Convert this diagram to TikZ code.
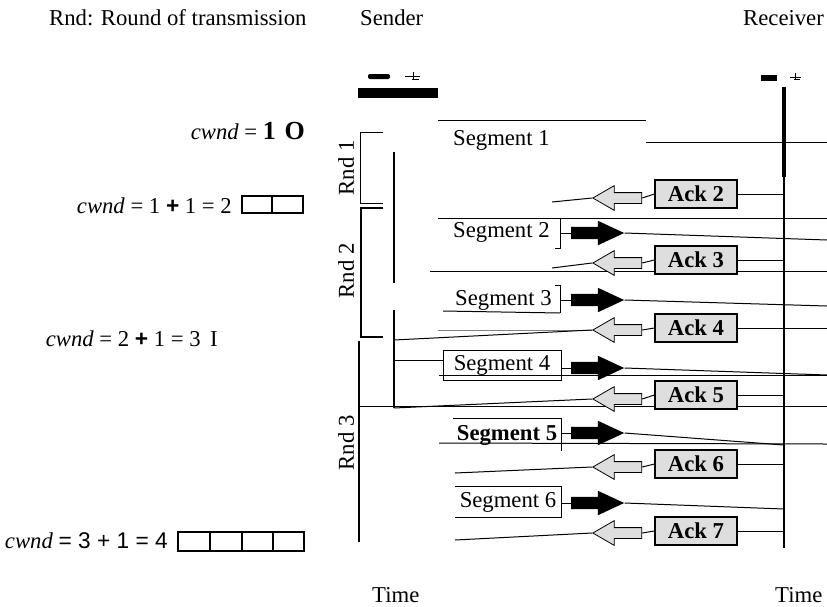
\documentclass[tikz,border=0pt]{standalone}
\usepackage{fontspec}
\setmainfont{Liberation Serif}
\setsansfont{Liberation Sans}
\usetikzlibrary{arrows.meta,positioning,shapes.arrows,calc}
\definecolor{ackgray}{RGB}{222,222,222}
\definecolor{rulegray}{RGB}{130,130,130}

\begin{document}
\begin{tikzpicture}[x=1pt,y=-1pt,
    every node/.style={font=\fontsize{22.7}{26}\selectfont, inner sep=0pt},
    conn/.style={line width=1pt},
    ackbox/.style={draw, line width=1.2pt, fill=ackgray, font=\fontsize{22.7}{26}\selectfont\bfseries,
      minimum width=82pt, minimum height=28pt},
    ackarrow/.style={single arrow, draw, line width=0.8pt, fill=ackgray, shape border rotate=180,
      minimum height=49pt, inner xsep=0pt, inner ysep=5pt, single arrow head extend=7pt,
      single arrow tip angle=60},
    segarrow/.style={single arrow, fill=black, minimum height=53pt, inner xsep=0pt, inner ysep=6pt,
      single arrow head extend=6pt, single arrow tip angle=50},
    rndlbl/.style={rotate=90}]
  \useasboundingbox (0,0) rectangle (827,606);

  % headings
  \node[anchor=base west] (rndkey) at (49,25) {Rnd: Round of transmission};
  \node[anchor=base west] (sender) at (360,25) {Sender};
  \node[anchor=base west] (receiver) at (743,25) {Receiver};
  \node[anchor=base west] (stime) at (372,602) {Time};
  \node[anchor=base west] (rtime) at (775,602) {Time};

  % sender and receiver marks
  \fill[rounded corners=2pt] (368,74) rectangle (390,79);
  \draw[line width=1pt] (405,76) -- (420,76) (413,72) -- (413,80) (412,79) -- (419,79);
  \fill (358,88) rectangle (438,98);
  \fill (761,75) rectangle (777,81);
  \draw[line width=1pt] (790,77) -- (801,77) (795,73) -- (795,80) (794,79) -- (800,79);
  \coordinate (rcv) at (784,87);
  \coordinate (rcvmid) at (784,177);
  \coordinate (rcvbot) at (784,548);
  \draw[line width=4pt] (rcv) -- (rcvmid);
  \draw[line width=1.5pt] (rcvmid) -- (rcvbot);

  % rounds
  \draw[line width=1pt] (383,132) -- (360,132) -- (360,203) -- (383,203);
  \draw[line width=1.4pt] (383,208) -- (361,208) -- (361,337) -- (383,337);
  \draw[line width=2pt] (359,341) -- (359,542);
  \node[rndlbl] (rnd1) at (346,168) {Rnd 1};
  \node[rndlbl] (rnd2) at (346,271) {Rnd 2};
  \node[rndlbl] (rnd3) at (346,443) {Rnd 3};
  \draw[line width=1.6pt] (394,152) -- (394,283);
  \draw[line width=1.6pt] (394,310) -- (394,408);

  % rules across the time lines
  \draw[conn] (438,120) -- (646,120);
  \draw[conn] (646,142) -- (827,142);
  \draw[conn] (438,218) -- (827,218);
  \draw[conn] (430,271) -- (827,271);
  \draw[conn] (439,375) -- (827,375);
  \draw[conn] (359,406) -- (827,406);
  \draw[conn] (439,443) -- (827,444);
  \draw[conn] (443,311) -- (560,313);

  % segments
  \node[anchor=base west] (seg1) at (453,145) {Segment 1};
  \node[anchor=base west] (seg2) at (453,237) {Segment 2};
  \node[anchor=base west] (seg3) at (455,305) {Segment 3};
  \node[draw, thick, minimum width=118pt, minimum height=30pt] (seg4) at (502,365) {Segment 4};
  \node[minimum width=108pt, minimum height=32pt, font=\fontsize{22.7}{26}\selectfont\bfseries] (seg5) at (507,435) {Segment 5};
  \node[minimum width=106pt, minimum height=30pt] (seg6) at (508,502) {Segment 6};
  \draw[conn] (555,218) -- (560,218) -- (560,248) -- (555,248);
  \draw[conn] (555,285) -- (560,285) -- (560,313);
  \draw[conn] (seg5.north west) -- (seg5.north east) -- (seg5.south east);
  \draw[conn] (seg6.north west) -- (seg6.north east) -- (seg6.south east) -- (seg6.south west);

  \node[segarrow] (seg2arr) at (591,233) {};
  \node[segarrow] (seg3arr) at (591,300) {};
  \node[segarrow] (seg4arr) at (591,368) {};
  \node[segarrow] (seg5arr) at (591,433) {};
  \node[segarrow] (seg6arr) at (591,503) {};
  \coordinate (seg2end) at (827,240);
  \coordinate (seg3end) at (827,306);
  \coordinate (seg4end) at (827,375);
  \coordinate (seg5end) at (784,445);
  \coordinate (seg6end) at (784,509);
  \draw[conn] (560,233) -- (seg2arr.tail);
  \draw[conn] (560,300) -- (seg3arr.tail);
  \draw[conn] (seg4.east |- seg4arr) -- (seg4arr.tail);
  \draw[conn] (seg5.east |- seg5arr) -- (seg5arr.tail);
  \draw[conn] (seg6.east |- seg6arr) -- (seg6arr.tail);
  \draw[conn] (seg2arr.tip) -- (seg2end);
  \draw[conn] (seg3arr.tip) -- (seg3end);
  \draw[conn] (seg4arr.tip) -- (seg4end);
  \draw[conn] (seg5arr.tip) -- (seg5end);
  \draw[conn] (seg6arr.tip) -- (seg6end);
  \coordinate (snd4) at (394,360);
  \draw[conn] (snd4) -- (seg4.west |- snd4);

  % acknowledgements
  \node[ackbox] (ack2) at (696,194) {Ack 2};
  \node[ackbox] (ack3) at (696,260) {Ack 3};
  \node[ackbox] (ack4) at (696,328) {Ack 4};
  \node[ackbox] (ack5) at (696,395) {Ack 5};
  \node[ackbox] (ack6) at (696,464) {Ack 6};
  \node[ackbox] (ack7) at (696,531) {Ack 7};
  \node[ackarrow] (ack2arr) at (622,198) {};
  \node[ackarrow] (ack3arr) at (622,263) {};
  \node[ackarrow] (ack4arr) at (622,330) {};
  \node[ackarrow] (ack5arr) at (622,399) {};
  \node[ackarrow] (ack6arr) at (622,467) {};
  \node[ackarrow] (ack7arr) at (622,533) {};
  \coordinate (ack2end) at (552,202);
  \coordinate (ack3end) at (552,268);
  \coordinate (ack4end) at (438,330);
  \coordinate (ack4snd) at (394,340);
  \coordinate (ack5end) at (394,408);
  \coordinate (ack6end) at (455,473);
  \coordinate (ack7end) at (455,540);
  \coordinate (rcvedge) at (827,328);
  \draw[conn] (ack2.east -| rcv) -- (ack2.east);
  \draw[conn] (ack3.east -| rcv) -- (ack3.east);
  \draw[conn] (rcvedge) -- (ack4.east);
  \draw[conn] (ack5.east -| rcv) -- (ack5.east);
  \draw[conn] (ack6.east -| rcv) -- (ack6.east);
  \draw[conn] (ack7.east -| rcv) -- (ack7.east);
  \draw[conn] (ack2.west) -- (ack2arr.tail);
  \draw[conn] (ack3.west) -- (ack3arr.tail);
  \draw[conn] (ack4.west) -- (ack4arr.tail);
  \draw[conn] (ack5.west) -- (ack5arr.tail);
  \draw[conn] (ack6.west) -- (ack6arr.tail);
  \draw[conn] (ack7.west) -- (ack7arr.tail);
  \draw[conn] (ack2arr.tip) -- (ack2end);
  \draw[conn] (ack3arr.tip) -- (ack3end);
  \draw[conn, rulegray] (ack4arr.tip) -- (ack4end);
  \draw[conn] (ack4arr.tip) -- (ack4snd);
  \draw[conn] (ack5arr.tip) -- (ack5end);
  \draw[conn] (ack6arr.tip) -- (ack6end);
  \draw[conn] (ack7arr.tip) -- (ack7end);

  % congestion window
  \node[anchor=base east] (cwnd1) at (305,139) {\itshape cwnd\upshape{} = {\fontsize{26}{30}\selectfont\bfseries 1\,\,O}};
  \node[anchor=base east] (cwnd2) at (232,213) {\itshape cwnd\upshape{} = 1 \textsf{\bfseries +} 1 = 2};
  \node[anchor=base east] (cwnd3) at (218,346) {\itshape cwnd\upshape{} = 2 \textsf{\bfseries +} 1 = 3 \,I};
  \node[anchor=base east] (cwnd4) at (168,548) {\itshape cwnd\upshape{} \textsf{= 3 + 1 = 4}};
  \draw[line width=1.4pt] (242,196) rectangle (303,213) (272,196) -- (272,213);
  \draw[line width=1.4pt] (178,532) rectangle (304,551)
    (210,532) -- (210,551) (242,532) -- (242,551) (273,532) -- (273,551);
\end{tikzpicture}
\end{document}
